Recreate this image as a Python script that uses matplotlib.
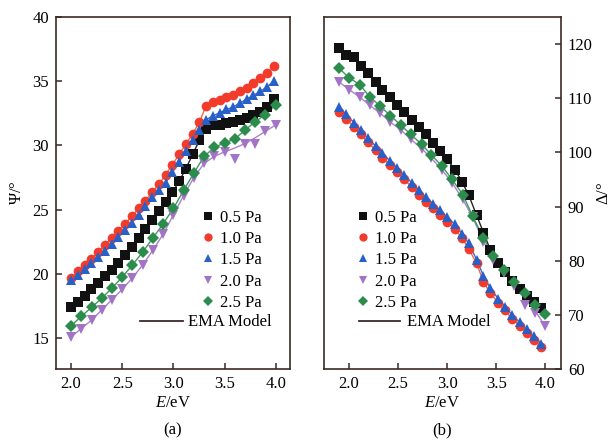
import matplotlib
matplotlib.use("Agg")
import matplotlib.pyplot as plt
from matplotlib.lines import Line2D

plt.rcParams["font.family"] = ["Liberation Serif", "DejaVu Serif"]
plt.rcParams["font.size"] = 12
plt.rcParams["mathtext.fontset"] = "custom"
plt.rcParams["mathtext.rm"] = "Liberation Serif"
plt.rcParams["mathtext.it"] = "Liberation Serif:italic"

# ---- (a) Psi spectra ----
E_a = [2.00, 2.066, 2.132, 2.198, 2.264, 2.33, 2.396, 2.462, 2.528, 2.594, 2.66,
       2.726, 2.792, 2.858, 2.924, 2.99, 3.056, 3.122, 3.188, 3.254, 3.32, 3.386,
       3.452, 3.518, 3.584, 3.65, 3.716, 3.782, 3.848, 3.914, 3.98]
psi_05 = [17.4, 17.85, 18.3, 18.8, 19.3, 19.8, 20.3, 20.85, 21.45, 22.1, 22.8,
          23.5, 24.2, 24.9, 25.6, 26.35, 27.2, 28.2, 29.3, 30.4, 31.3, 31.6,
          31.6, 31.75, 31.85, 32.0, 32.15, 32.35, 32.6, 33.0, 33.6]
psi_10 = [19.7, 20.2, 20.7, 21.2, 21.7, 22.25, 22.8, 23.35, 23.9, 24.5, 25.1,
          25.7, 26.35, 27.0, 27.7, 28.5, 29.3, 30.1, 30.9, 31.8, 33.1, 33.35,
          33.55, 33.75, 33.95, 34.2, 34.45, 34.85, 35.25, 35.65, 36.2]
psi_15 = [19.5, 19.95, 20.35, 20.85, 21.35, 21.8, 22.35, 22.9, 23.45, 24.0, 24.6,
          25.3, 25.95, 26.5, 27.1, 27.9, 28.7, 29.6, 30.4, 31.2, 32.0, 32.3,
          32.55, 32.8, 33.0, 33.3, 33.6, 33.9, 34.2, 34.55, 35.0]
E_a2 = [2.0, 2.1, 2.2, 2.3, 2.4, 2.5, 2.6, 2.7, 2.8, 2.9, 3.0, 3.1, 3.2, 3.3,
        3.4, 3.5, 3.6, 3.7, 3.8, 3.9, 4.0]
psi_20 = [15.1, 15.75, 16.4, 17.2, 18.0, 18.8, 19.7, 20.7, 21.85, 23.1, 24.6,
          26.1, 27.5, 28.6, 29.15, 29.5, 28.95, 30.1, 30.1, 31.15, 31.6]
psi_20_ema = [15.1, 15.75, 16.4, 17.2, 18.0, 18.8, 19.7, 20.7, 21.85, 23.1, 24.6,
              26.1, 27.5, 28.6, 29.15, 29.5, 29.8, 30.15, 30.6, 31.1, 31.6]
psi_25 = [15.95, 16.7, 17.4, 18.1, 18.9, 19.75, 20.7, 21.7, 22.8, 23.9, 25.1,
          26.5, 27.85, 29.15, 29.85, 30.2, 30.5, 31.2, 31.85, 32.4, 33.15]

# ---- (b) Delta spectra ----
E_b = [1.90, 1.97, 2.05, 2.12, 2.19, 2.27, 2.34, 2.42, 2.49, 2.56, 2.64, 2.71,
       2.78, 2.86, 2.93, 3.00, 3.08, 3.15, 3.22, 3.30, 3.37, 3.44, 3.52, 3.59,
       3.66, 3.74, 3.81, 3.88, 3.96]
dlt_05 = [119.3, 118.0, 117.6, 116.0, 114.6, 113.0, 111.6, 110.2, 108.8, 107.4,
          106.0, 104.6, 103.3, 101.8, 100.3, 98.7, 96.8, 94.6, 92.1, 88.4, 85.2,
          82.0, 79.6, 77.9, 76.3, 74.8, 73.5, 72.3, 71.2]
dlt_10 = [107.5, 106.2, 104.7, 103.3, 101.9, 100.4, 99.0, 97.6, 96.4, 95.0, 93.6,
          92.2, 90.9, 89.7, 88.4, 87.2, 85.8, 84.2, 82.2, 79.5, 76.1, 74.0, 72.2,
          70.8, 69.3, 68.0, 66.7, 65.4, 64.1]
dlt_15 = [108.4, 107.0, 105.5, 104.1, 102.6, 101.2, 99.8, 98.4, 97.1, 95.8, 94.4,
          93.0, 91.7, 90.5, 89.3, 88.0, 86.7, 85.0, 83.2, 80.2, 77.2, 74.9, 73.0,
          71.5, 70.0, 68.6, 67.3, 66.0, 64.7]
E_b2 = [1.90, 2.00, 2.11, 2.21, 2.32, 2.42, 2.53, 2.63, 2.74, 2.84, 2.95, 3.05,
        3.16, 3.26, 3.37, 3.47, 3.58, 3.68, 3.79, 3.89, 4.00]
dlt_20 = [113.0, 111.6, 110.2, 108.7, 107.2, 105.6, 104.1, 102.4, 100.7, 98.9,
          96.7, 94.4, 91.3, 88.0, 83.5, 80.2, 77.8, 75.4, 71.8, 70.4, 67.9]
dlt_20_ema = [113.0, 111.6, 110.2, 108.7, 107.2, 105.6, 104.1, 102.4, 100.7, 98.9,
              96.7, 94.4, 91.3, 88.0, 83.5, 80.2, 77.8, 75.4, 73.0, 70.9, 67.9]
dlt_25 = [115.5, 113.8, 112.5, 110.3, 108.5, 106.8, 105.0, 103.3, 101.5, 99.5,
          97.4, 95.0, 92.2, 88.2, 84.2, 80.8, 78.2, 76.1, 74.0, 71.8, 70.1]

labels = ["0.5 Pa", "1.0 Pa", "1.5 Pa", "2.0 Pa", "2.5 Pa"]
colors = ["#111111", "#f23b2b", "#2860c8", "#a374c6", "#2b8c4c"]
line_colors = ["#222222", "#f26a4a", "#3a6fd0", "#a884c8", "#3c9a5a"]
markers = ["s", "o", "^", "v", "D"]
msizes = [6.5, 7, 7, 7, 6]
spine_color = "#3b2a22"

fig = plt.figure(figsize=(6.15, 4.4), dpi=100)
ax1 = fig.add_axes([0.0906, 0.1614, 0.381, 0.80])
ax2 = fig.add_axes([0.5268, 0.1614, 0.3854, 0.80])

series_a = [(E_a, psi_05, psi_05), (E_a, psi_10, psi_10), (E_a, psi_15, psi_15),
            (E_a2, psi_20, psi_20_ema), (E_a2, psi_25, psi_25)]
series_b = [(E_b, dlt_05, dlt_05), (E_b, dlt_10, dlt_10), (E_b, dlt_15, dlt_15),
            (E_b2, dlt_20, dlt_20_ema), (E_b2, dlt_25, dlt_25)]

for ax, series in [(ax1, series_a), (ax2, series_b)]:
    for (x, y, ym), lab, c, lc, m, ms in zip(series, labels, colors, line_colors,
                                             markers, msizes):
        ax.plot(x, ym, "-", color=lc, lw=1.0, zorder=2)
        ax.plot(x, y, linestyle="none", marker=m, ms=ms, color=c,
                markeredgewidth=0, label=lab, zorder=3)
    for sp in ax.spines.values():
        sp.set_color(spine_color)
        sp.set_linewidth(1.2)
    ax.tick_params(direction="in", length=4, width=1.1, color=spine_color,
                   labelsize=12, pad=5)

# panel (a)
ax1.set_xlim(1.85, 4.14)
ax1.set_ylim(12.6, 40)
ax1.set_xticks([2.0, 2.5, 3.0, 3.5, 4.0])
ax1.set_yticks([15, 20, 25, 30, 35, 40])
ax1.set_xlabel(r"$\mathit{E}$/eV", fontsize=12, labelpad=2)
ax1.set_ylabel(r"$\mathit{\Psi}$/°", fontsize=12, labelpad=5)
ax1.text(0.5, -0.175, "(a)", transform=ax1.transAxes, ha="center", va="center",
         fontsize=12)

# panel (b)
ax2.set_xlim(1.745, 4.16)
ax2.set_ylim(60, 125)
ax2.set_xticks([2.0, 2.5, 3.0, 3.5, 4.0])
ax2.set_yticks([60, 70, 80, 90, 100, 110, 120])
ax2.yaxis.tick_right()
ax2.yaxis.set_label_position("right")
ax2.tick_params(axis="y", left=False, right=True)
ax2.set_xlabel(r"$\mathit{E}$/eV", fontsize=12, labelpad=2)
ax2.set_ylabel(r"$\mathit{\Delta}$/°", fontsize=12, labelpad=2)
ax2.text(0.5, -0.175, "(b)", transform=ax2.transAxes, ha="center", va="center",
         fontsize=12)

# legends: marker entries plus a separate line entry for the model
for ax, xa, xb, hl, tp in [(ax1, 0.624, 0.36, 2.6, 0.3),
                           (ax2, 0.139, 0.148, 2.45, 0.42)]:
    leg = ax.legend(loc="upper left", bbox_to_anchor=(xa, 0.453), frameon=False,
                    handlelength=0.72, handletextpad=0.36, labelspacing=0.32,
                    borderpad=0, borderaxespad=0, fontsize=12, markerscale=0.85)
    ax.add_artist(leg)
    ema = Line2D([], [], color="#3a2a2a", lw=1.3)
    ax.legend([ema], ["EMA Model"], loc="upper left", bbox_to_anchor=(xb, 0.155),
              frameon=False, handlelength=hl, handletextpad=tp, borderpad=0,
              borderaxespad=0, fontsize=12)

fig.savefig("out.png", dpi=100)
